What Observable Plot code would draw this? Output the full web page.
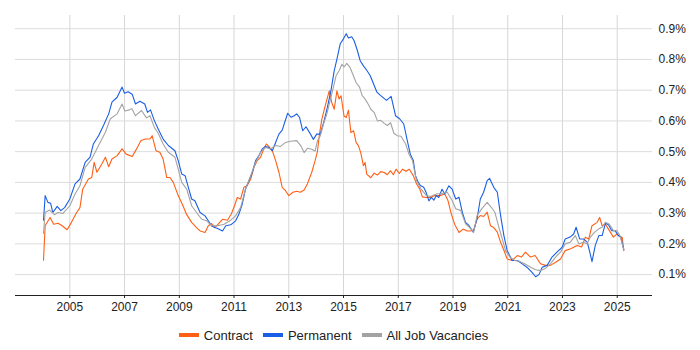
<!DOCTYPE html>
<html>
<head>
<meta charset="utf-8">
<script src="https://cdn.jsdelivr.net/npm/d3@7"></script>
<script src="https://cdn.jsdelivr.net/npm/@observablehq/plot@0.6"></script>
<style>
  body { margin: 0; background: #fff; font-family: Arial, "Liberation Sans", sans-serif; }
  #wrap { width: 700px; }
  #legend { display: flex; justify-content: center; align-items: center; height: 30px;
            padding-left: 15px; padding-right: 48px; font-size: 13px; color: #222; }
  .item { display: flex; align-items: center; margin: 0 5px; }
  .sw { width: 20px; height: 4px; margin-right: 5px; }
</style>
</head>
<body>
<div id="wrap"><div id="chart"></div><div id="legend"></div></div>
<script>
// ---- Data (decimal year, value in %) ----
const seriesNames = ["Contract", "Permanent", "All Job Vacancies"];
const seriesColors = ["#ff5f15", "#1a5ee6", "#a3a3a3"];

const contractYears = [2004.04,2004.10,2004.28,2004.41,2004.57,2004.72,2004.90,2005.06,2005.25,2005.37,2005.47,2005.68,2005.80,2005.89,2005.99,2006.17,2006.30,2006.42,2006.54,2006.73,2006.91,2007.06,2007.28,2007.44,2007.60,2007.77,2007.93,2008.01,2008.15,2008.29,2008.41,2008.54,2008.66,2008.78,2008.96,2009.11,2009.27,2009.45,2009.63,2009.76,2009.94,2010.06,2010.18,2010.30,2010.42,2010.58,2010.76,2010.90,2011.02,2011.12,2011.24,2011.36,2011.48,2011.61,2011.73,2011.85,2011.97,2012.09,2012.18,2012.27,2012.40,2012.52,2012.64,2012.76,2012.88,2013.00,2013.15,2013.29,2013.42,2013.56,2013.68,2013.84,2013.96,2014.05,2014.12,2014.21,2014.33,2014.48,2014.57,2014.66,2014.76,2014.84,2014.91,2015.02,2015.10,2015.18,2015.27,2015.37,2015.46,2015.55,2015.63,2015.73,2015.79,2015.85,2016.00,2016.12,2016.24,2016.36,2016.49,2016.60,2016.72,2016.82,2016.92,2017.04,2017.16,2017.28,2017.40,2017.55,2017.67,2017.79,2017.88,2018.03,2018.18,2018.33,2018.52,2018.70,2018.82,2018.94,2019.06,2019.22,2019.37,2019.52,2019.64,2019.76,2019.88,2020.00,2020.12,2020.25,2020.37,2020.49,2020.62,2020.74,2020.86,2020.98,2021.16,2021.35,2021.50,2021.65,2021.83,2022.00,2022.20,2022.38,2022.56,2022.75,2022.93,2023.10,2023.30,2023.54,2023.70,2023.84,2023.96,2024.08,2024.27,2024.36,2024.45,2024.57,2024.68,2024.86,2024.98,2025.12,2025.18,2025.24];
const contractValues = [0.147,0.259,0.286,0.264,0.267,0.259,0.246,0.27,0.302,0.318,0.378,0.411,0.416,0.465,0.433,0.46,0.482,0.451,0.476,0.487,0.509,0.492,0.484,0.509,0.536,0.541,0.541,0.552,0.503,0.498,0.476,0.416,0.416,0.40,0.357,0.329,0.295,0.27,0.253,0.242,0.237,0.259,0.266,0.253,0.264,0.28,0.277,0.297,0.324,0.351,0.346,0.384,0.389,0.411,0.449,0.471,0.482,0.509,0.525,0.517,0.503,0.471,0.433,0.384,0.373,0.357,0.368,0.371,0.368,0.375,0.395,0.433,0.47,0.502,0.557,0.606,0.649,0.698,0.66,0.638,0.698,0.671,0.682,0.616,0.611,0.635,0.562,0.568,0.53,0.519,0.497,0.454,0.465,0.427,0.415,0.43,0.424,0.435,0.432,0.425,0.438,0.425,0.443,0.429,0.443,0.436,0.443,0.422,0.395,0.378,0.353,0.351,0.351,0.357,0.357,0.362,0.34,0.297,0.264,0.237,0.248,0.242,0.242,0.245,0.281,0.292,0.289,0.303,0.259,0.253,0.238,0.205,0.179,0.151,0.146,0.162,0.157,0.173,0.157,0.162,0.135,0.13,0.13,0.14,0.151,0.178,0.184,0.195,0.19,0.222,0.215,0.259,0.27,0.286,0.259,0.264,0.248,0.222,0.232,0.222,0.222,0.178];

const permanentYears = [2004.04,2004.10,2004.20,2004.30,2004.38,2004.54,2004.67,2004.81,2005.00,2005.19,2005.37,2005.56,2005.74,2005.86,2006.05,2006.23,2006.42,2006.54,2006.73,2006.91,2007.00,2007.13,2007.28,2007.40,2007.56,2007.74,2007.84,2007.95,2008.09,2008.23,2008.41,2008.60,2008.84,2008.96,2009.09,2009.21,2009.33,2009.45,2009.57,2009.76,2009.94,2010.06,2010.18,2010.30,2010.40,2010.58,2010.70,2010.88,2011.06,2011.18,2011.30,2011.42,2011.54,2011.67,2011.79,2011.91,2012.03,2012.15,2012.27,2012.40,2012.52,2012.64,2012.76,2012.85,2012.96,2013.08,2013.20,2013.29,2013.39,2013.51,2013.63,2013.76,2013.90,2014.02,2014.15,2014.29,2014.41,2014.54,2014.66,2014.76,2014.88,2015.00,2015.10,2015.18,2015.30,2015.39,2015.49,2015.61,2015.73,2015.85,2015.98,2016.10,2016.22,2016.35,2016.57,2016.74,2016.90,2017.05,2017.20,2017.33,2017.44,2017.55,2017.63,2017.73,2017.81,2017.93,2018.02,2018.12,2018.21,2018.30,2018.39,2018.48,2018.60,2018.70,2018.85,2018.97,2019.10,2019.22,2019.34,2019.46,2019.58,2019.74,2019.88,2020.00,2020.12,2020.25,2020.34,2020.49,2020.62,2020.74,2020.86,2020.98,2021.16,2021.35,2021.53,2021.70,2021.89,2022.02,2022.14,2022.26,2022.44,2022.62,2022.80,2022.99,2023.10,2023.28,2023.41,2023.50,2023.63,2023.77,2023.91,2024.00,2024.08,2024.20,2024.33,2024.45,2024.57,2024.68,2024.80,2024.92,2025.04,2025.13,2025.24];
const permanentValues = [0.277,0.357,0.335,0.332,0.302,0.322,0.308,0.318,0.346,0.395,0.411,0.465,0.482,0.525,0.552,0.585,0.623,0.661,0.677,0.71,0.69,0.695,0.687,0.655,0.664,0.655,0.628,0.636,0.601,0.574,0.541,0.52,0.503,0.471,0.427,0.422,0.384,0.346,0.34,0.302,0.291,0.275,0.258,0.253,0.25,0.242,0.259,0.262,0.275,0.297,0.329,0.378,0.405,0.433,0.471,0.487,0.509,0.517,0.514,0.503,0.53,0.557,0.57,0.595,0.625,0.612,0.617,0.623,0.612,0.568,0.581,0.562,0.54,0.557,0.557,0.60,0.644,0.698,0.763,0.801,0.851,0.867,0.884,0.87,0.874,0.861,0.834,0.796,0.779,0.765,0.747,0.72,0.694,0.683,0.667,0.68,0.617,0.607,0.59,0.536,0.492,0.471,0.422,0.40,0.39,0.384,0.367,0.34,0.351,0.342,0.357,0.351,0.378,0.362,0.389,0.378,0.346,0.352,0.303,0.27,0.26,0.238,0.281,0.346,0.368,0.406,0.413,0.384,0.368,0.292,0.227,0.178,0.146,0.146,0.135,0.124,0.107,0.093,0.10,0.124,0.13,0.157,0.173,0.189,0.216,0.222,0.232,0.254,0.216,0.216,0.205,0.173,0.142,0.195,0.227,0.227,0.267,0.262,0.243,0.243,0.227,0.222,0.181];

const allYears = [2004.04,2004.10,2004.26,2004.44,2004.57,2004.75,2005.00,2005.19,2005.37,2005.56,2005.80,2006.05,2006.30,2006.48,2006.73,2006.91,2007.01,2007.18,2007.27,2007.40,2007.62,2007.80,2007.93,2008.09,2008.23,2008.41,2008.60,2008.84,2008.96,2009.09,2009.27,2009.45,2009.63,2009.82,2010.00,2010.18,2010.40,2010.64,2010.88,2011.06,2011.24,2011.42,2011.61,2011.79,2011.97,2012.15,2012.33,2012.52,2012.70,2012.88,2013.06,2013.29,2013.44,2013.56,2013.68,2013.84,2013.96,2014.05,2014.15,2014.27,2014.39,2014.51,2014.63,2014.73,2014.85,2014.94,2015.02,2015.12,2015.24,2015.34,2015.46,2015.59,2015.68,2015.79,2015.90,2016.00,2016.12,2016.24,2016.36,2016.49,2016.60,2016.72,2016.84,2016.96,2017.10,2017.27,2017.40,2017.52,2017.67,2017.82,2018.03,2018.18,2018.39,2018.58,2018.79,2018.97,2019.10,2019.28,2019.46,2019.60,2019.76,2019.88,2020.05,2020.25,2020.40,2020.53,2020.66,2020.80,2020.92,2021.08,2021.26,2021.44,2021.62,2021.84,2022.02,2022.20,2022.38,2022.56,2022.75,2022.93,2023.10,2023.28,2023.47,2023.60,2023.77,2023.90,2024.02,2024.18,2024.33,2024.45,2024.57,2024.70,2024.86,2024.98,2025.10,2025.24];
const allValues = [0.234,0.302,0.31,0.295,0.302,0.299,0.324,0.362,0.389,0.449,0.476,0.52,0.563,0.607,0.623,0.655,0.632,0.636,0.64,0.617,0.634,0.61,0.617,0.579,0.56,0.525,0.498,0.482,0.443,0.40,0.378,0.324,0.302,0.28,0.275,0.259,0.259,0.264,0.277,0.291,0.318,0.378,0.422,0.465,0.498,0.514,0.509,0.52,0.517,0.53,0.534,0.536,0.519,0.497,0.511,0.508,0.502,0.536,0.551,0.59,0.622,0.666,0.709,0.747,0.765,0.784,0.776,0.787,0.774,0.752,0.725,0.709,0.683,0.671,0.655,0.638,0.628,0.60,0.602,0.592,0.585,0.594,0.56,0.552,0.55,0.525,0.49,0.471,0.405,0.38,0.357,0.354,0.362,0.364,0.368,0.341,0.314,0.309,0.265,0.254,0.238,0.292,0.314,0.335,0.319,0.303,0.259,0.216,0.178,0.157,0.146,0.143,0.135,0.124,0.116,0.113,0.12,0.135,0.157,0.173,0.20,0.205,0.227,0.20,0.205,0.20,0.222,0.238,0.249,0.254,0.27,0.265,0.243,0.243,0.227,0.181];

const xTickYears = [2005, 2007, 2009, 2011, 2013, 2015, 2017, 2019, 2021, 2023, 2025];
const yTickValues = [0.1, 0.2, 0.3, 0.4, 0.5, 0.6, 0.7, 0.8, 0.9];
const xDomainYears = [2003.016, 2026.29];
const yDomain = [0.032, 0.943];

// ---- Build ----
const toDate = y => {
  const yr = Math.floor(y);
  const a = Date.UTC(yr, 0, 1), b = Date.UTC(yr + 1, 0, 1);
  return new Date(a + (y - yr) * (b - a));
};
const build = (name, ys, vs) => ys.map((y, i) => ({date: toDate(y), value: vs[i], series: name}));
const rows = [
  ...build("Contract", contractYears, contractValues),
  ...build("Permanent", permanentYears, permanentValues),
  ...build("All Job Vacancies", allYears, allValues)
];
const xTicks = xTickYears.map(y => new Date(Date.UTC(y, 0, 1)));

const chart = Plot.plot({
  width: 700,
  height: 320,
  marginLeft: 15,
  marginRight: 48,
  marginTop: 15,
  marginBottom: 25,
  style: {fontFamily: "Arial, 'Liberation Sans', sans-serif", fontSize: "12px", color: "#222", background: "#fff"},
  x: {type: "utc", domain: xDomainYears.map(toDate), ticks: xTicks, tickFormat: d => String(d.getUTCFullYear()), tickSize: 3, tickPadding: 4, label: null},
  y: {domain: yDomain, axis: "right", ticks: yTickValues, tickFormat: d => d.toFixed(1) + "%", tickSize: 0, tickPadding: 6, label: null},
  color: {domain: seriesNames, range: seriesColors},
  marks: [
    Plot.ruleX(xTicks, {stroke: "#d6d6d6", strokeWidth: 1}),
    Plot.ruleY(yTickValues, {stroke: "#dcdcdc", strokeWidth: 1}),
    Plot.ruleY([yDomain[0]], {stroke: "#222", strokeWidth: 1}),
    Plot.line(rows, {x: "date", y: "value", z: "series", stroke: "series", strokeWidth: 1.1, curve: "linear"})
  ]
});
document.getElementById("chart").appendChild(chart);

const legend = document.getElementById("legend");
seriesNames.forEach((n, i) => {
  const it = document.createElement("div");
  it.className = "item";
  const sw = document.createElement("div");
  sw.className = "sw";
  sw.style.background = seriesColors[i];
  const t = document.createElement("span");
  t.textContent = n;
  it.appendChild(sw); it.appendChild(t);
  legend.appendChild(it);
});
</script>
</body>
</html>
